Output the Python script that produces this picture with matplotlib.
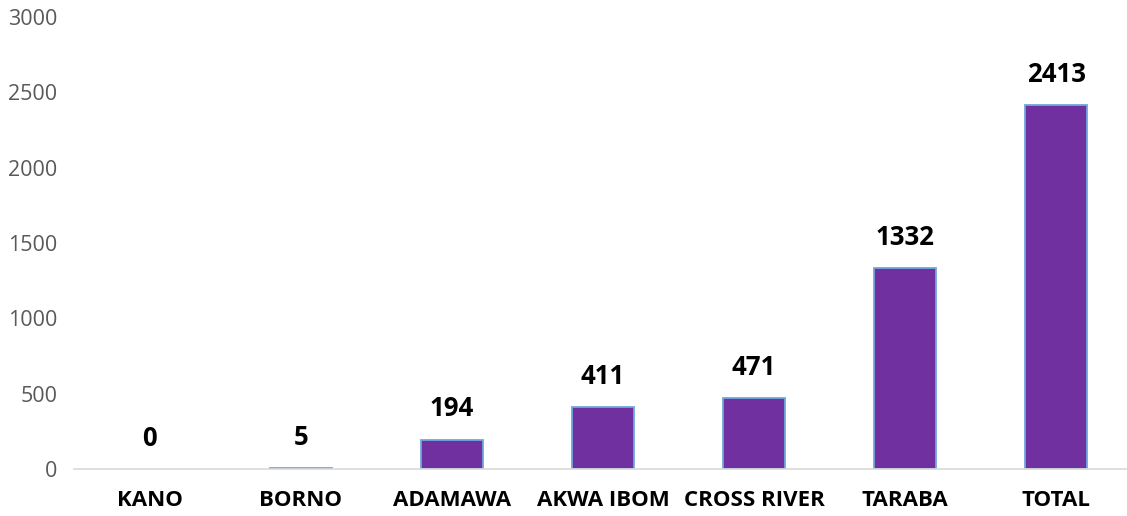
import numpy as np
import matplotlib.pyplot as plt

# datos del grafico
states = ['KANO', 'BORNO', 'ADAMAWA', 'AKWA IBOM', 'CROSS RIVER', 'TARABA', 'TOTAL']
cases = [0, 5, 194, 411, 471, 1332, 2413]
yticks = [0, 500, 1000, 1500, 2000, 2500, 3000]

plt.rcParams['font.family'] = ['Open Sans', 'DejaVu Sans']

fig = plt.figure(figsize=(11.27, 5.16), dpi=100)
ax = fig.add_axes([74 / 1127, 47 / 516, (1132 - 74) / 1127, 452 / 516])

x = np.arange(len(states))
bars = ax.bar(x, cases, width=0.41, color='#7030A0', edgecolor='#6FA8DC', linewidth=1.3)
for b, v in zip(bars, cases):
    if v == 0:
        b.set_linewidth(0)  # barra vacia, sin borde

for xi, v in zip(x, cases):
    ax.annotate(str(v), (xi, v), xytext=(0, 12.5), textcoords='offset points',
                ha='center', va='bottom', fontsize=18.5, fontweight='bold', color='black')

ax.set_xlim(-0.5, len(states) - 0.5)
ax.set_ylim(0, 3000)
ax.set_yticks(yticks)
ax.set_xticks(x)
ax.set_xticklabels(states, fontsize=16, fontweight='bold')
ax.tick_params(axis='x', length=0, pad=15)
ax.tick_params(axis='y', length=0, pad=12, labelsize=15.5, labelcolor='#595959')

for s in ['top', 'right', 'left']:
    ax.spines[s].set_visible(False)
ax.spines['bottom'].set_color('#D9D9D9')
ax.spines['bottom'].set_linewidth(1.2)

fig.savefig('out.png', dpi=100)
